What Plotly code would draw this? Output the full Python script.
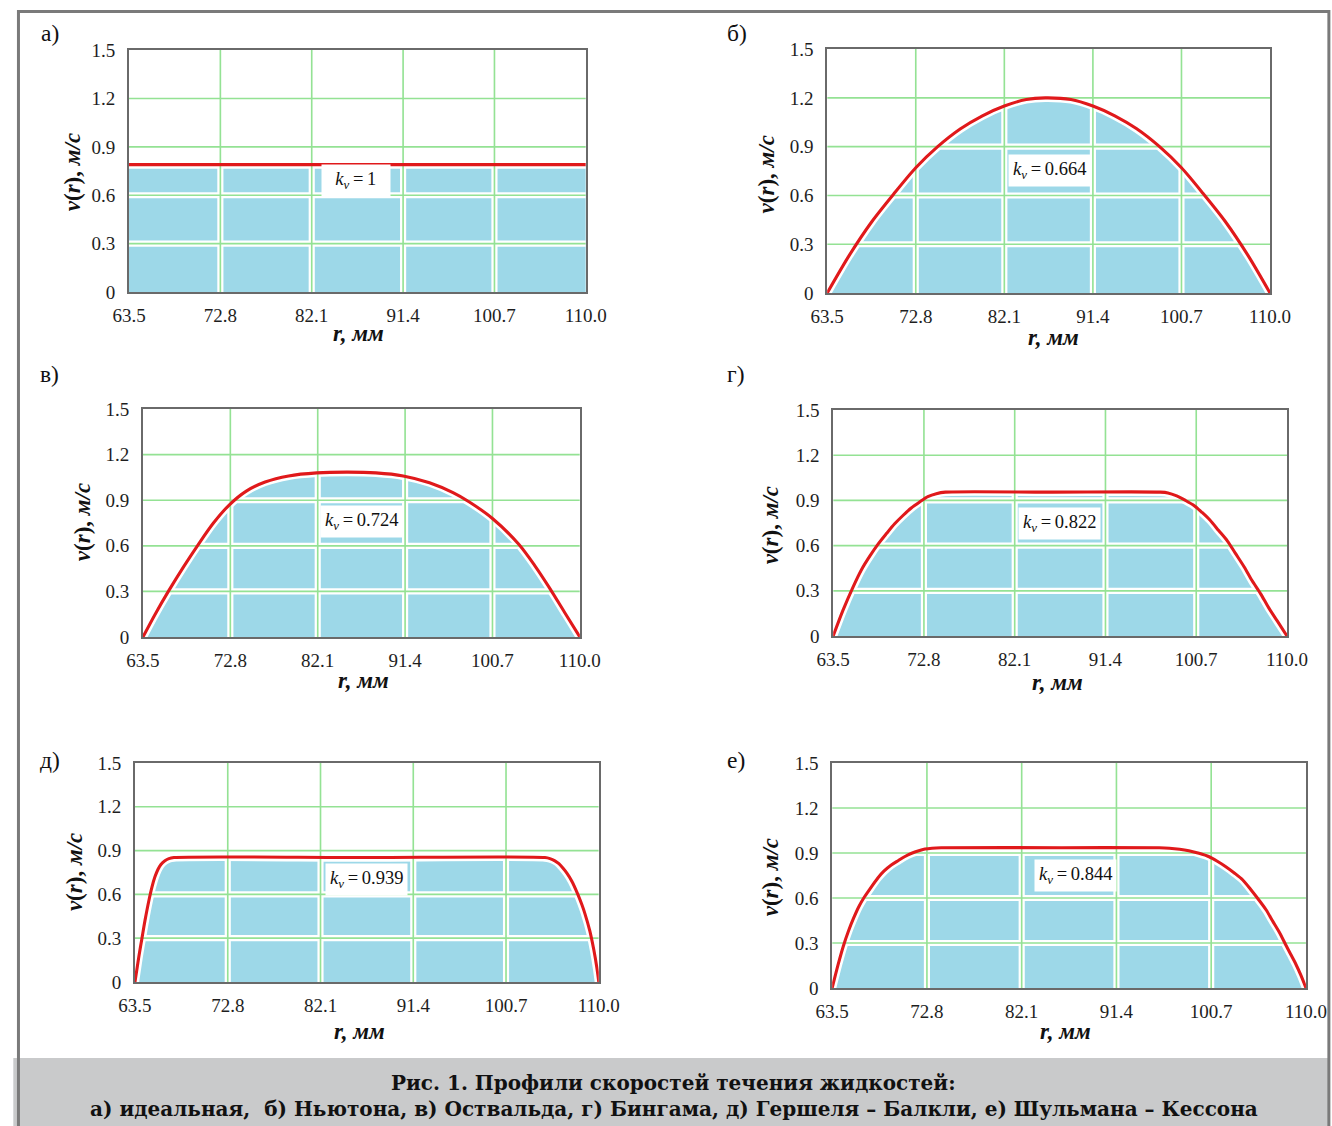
import plotly.graph_objects as go

W, H = 1332, 1126

# ---------------- data ----------------
R_TICKS = [63.5, 72.8, 82.1, 91.4, 100.7, 110.0]
R_TICKTEXT = ["63.5", "72.8", "82.1", "91.4", "100.7", "110.0"]
V_TICKS = [0, 0.3, 0.6, 0.9, 1.2, 1.5]
V_TICKTEXT = ["0", "0.3", "0.6", "0.9", "1.2", "1.5"]

# а) ideal
R_A = [63.5, 75.0, 86.75, 98.5, 110.0]
V_A = [0.79, 0.79, 0.79, 0.79, 0.79]
# б) Newton
R_B = [63.5, 65.8, 68.2, 70.5, 72.8, 75.1, 77.5, 79.8, 82.1, 84.4, 86.4, 89.1, 91.4, 93.7, 96.0, 98.4, 100.7, 103.0, 105.3, 107.7, 110.0]
V_B = [0.0, 0.23, 0.44, 0.61, 0.77, 0.90, 1.01, 1.09, 1.15, 1.19, 1.20, 1.19, 1.15, 1.09, 1.01, 0.90, 0.77, 0.61, 0.44, 0.23, 0.0]
# в) Ostwald
R_C = [63.5, 64.8, 66.2, 67.8, 69.4, 71.0, 72.7, 74.5, 76.5, 79.0, 82.0, 85.3, 88.3, 91.2, 94.0, 96.5, 98.2, 100.7, 103.5, 105.2, 106.7, 108.5, 110.0]
V_C = [0.0, 0.15, 0.30, 0.46, 0.61, 0.75, 0.87, 0.96, 1.02, 1.06, 1.08, 1.085, 1.08, 1.06, 1.015, 0.95, 0.89, 0.78, 0.61, 0.47, 0.33, 0.15, 0.0]
# г) Bingham
R_D = [63.5, 64.5, 65.5, 66.4, 67.25, 68.1, 68.96, 69.8, 70.65, 71.5, 72.36, 73.2, 74.07, 75.0, 86.0, 97.0, 97.8, 98.7,
       99.6, 100.5, 101.3, 102.1, 103.0, 103.9, 104.7, 105.6, 106.4, 107.3, 108.1, 109.0, 110.0]
V_D = [0.0, 0.17, 0.32, 0.44, 0.53, 0.61, 0.68, 0.745, 0.80, 0.85, 0.89, 0.925, 0.945, 0.955, 0.955, 0.955, 0.95, 0.93,
       0.90, 0.865, 0.82, 0.77, 0.70, 0.63, 0.55, 0.46, 0.37, 0.28, 0.19, 0.10, 0.0]
# д) Herschel-Bulkley
R_E = [63.5, 63.7, 63.9, 64.2, 64.5, 64.9, 65.2, 65.5, 65.8, 66.1, 66.5, 66.9, 67.4, 86.0, 104.6, 105.1, 105.6, 106.0,
       106.4, 106.8, 107.3, 107.9, 108.3, 108.6, 109.1, 109.5, 109.8, 110.0]
V_E = [0.0, 0.09, 0.18, 0.30, 0.42, 0.56, 0.65, 0.72, 0.77, 0.805, 0.83, 0.845, 0.852, 0.852, 0.852, 0.845, 0.83, 0.81,
       0.78, 0.745, 0.69, 0.60, 0.53, 0.47, 0.35, 0.22, 0.10, 0.0]
# е) Shulman-Casson
R_F = [63.5, 64.1, 64.6, 65.1, 65.6, 66.1, 66.6, 67.1, 68.0, 68.6, 69.3, 70.0, 70.6, 71.3, 72.0, 72.6, 73.3, 74.2, 86.0,
       95.6, 96.6, 97.6, 98.5, 99.5, 100.5, 101.3, 102.1, 103.0, 103.8, 104.6, 105.4, 106.1, 106.7, 107.4, 108.0, 108.5,
       109.0, 109.5, 110.0]
V_F = [0.0, 0.16, 0.28, 0.38, 0.465, 0.54, 0.60, 0.65, 0.735, 0.78, 0.82, 0.85, 0.875, 0.898, 0.915, 0.926, 0.932, 0.935,
       0.935, 0.935, 0.932, 0.925, 0.915, 0.898, 0.875, 0.845, 0.81, 0.765, 0.72, 0.655, 0.585, 0.52, 0.45, 0.37, 0.29,
       0.225, 0.16, 0.085, 0.0]

PANEL_LABELS = ["а)", "б)", "в)", "г)", "д)", "е)"]
KV_TEXT = ["1", "0.664", "0.724", "0.822", "0.939", "0.844"]
KV_POS = [(86.65, 0.694), (86.85, 0.753), (86.75, 0.763), (86.7, 0.75), (86.75, 0.70), (87.4, 0.747)]
CAPTION_1 = "Рис. 1. Профили скоростей течения жидкостей:"
CAPTION_2 = "а) идеальная,  б) Ньютона, в) Оствальда, г) Бингама, д) Гершеля – Балкли, е) Шульмана – Кессона"

SERIES = [(R_A, V_A), (R_B, V_B), (R_C, V_C), (R_D, V_D), (R_E, V_E), (R_F, V_F)]

# ---------------- layout geometry (target pixels in the photographed page) ----------------
FRAMES = [  # x0, x1, ytop, ybottom
    (127, 585, 50, 292),
    (827, 1271, 49, 293),
    (141, 579, 409, 637),
    (833, 1288, 410, 636),
    (133, 598, 763, 982),
    (832, 1307, 763, 988),
]
LABEL_POS = [(48, 33), (737, 33), (47, 374), (735, 374), (48, 760), (736, 760)]
XTITLE_POS = [(357, 333), (1054, 337), (362, 681), (1058, 683), (358, 1032), (1066, 1032)]
YTITLE_POS = [(70, 172), (766, 174), (80, 522), (770, 525), (73, 872), (771, 877)]

# the photographed page shows the figure slightly reduced and offset; compensate
AX, BX = 0.974, 14.7
AY, BY = 0.9815, 9.9
S = 2.0 / (AX + AY)


def fx(x):
    return (x - BX) / AX


def fy(y):
    return (y - BY) / AY


def px(x):
    return fx(x) / W


def py(y):
    return 1 - fy(y) / H


FILL = "#9dd8e8"
RED = "#e0191b"
GRID = "#94e294"
FONT = "Liberation Serif"
LINE = dict(shape="spline", smoothing=0.8)

fig = go.Figure()
annotations = []
shapes = []

for i, ((r, v), (x0, x1, yt, yb)) in enumerate(zip(SERIES, FRAMES)):
    n = "" if i == 0 else str(i + 1)
    xa, ya = "x" + n, "y" + n
    fig.add_trace(go.Scatter(x=r, y=v, xaxis=xa, yaxis=ya, mode="lines", fill="tozeroy",
                             fillcolor=FILL, line=dict(width=0, **LINE),
                             hoverinfo="skip", showlegend=False))
    fig.add_trace(go.Scatter(x=r, y=v, xaxis=xa, yaxis=ya, mode="lines",
                             line=dict(width=8 * S, color="white", **LINE),
                             hoverinfo="skip", showlegend=False))
    gx, gy = [], []
    for t in R_TICKS[1:-1]:
        gx += [t, t, None]
        gy += [V_TICKS[0], V_TICKS[-1], None]
    for t in V_TICKS[1:-1]:
        gx += [R_TICKS[0], R_TICKS[-1], None]
        gy += [t, t, None]
    fig.add_trace(go.Scatter(x=gx, y=gy, xaxis=xa, yaxis=ya, mode="lines",
                             line=dict(width=6 * S, color="white"), hoverinfo="skip", showlegend=False))
    fig.add_trace(go.Scatter(x=gx, y=gy, xaxis=xa, yaxis=ya, mode="lines",
                             line=dict(width=1.6 * S, color=GRID), hoverinfo="skip", showlegend=False))
    fig.add_trace(go.Scatter(x=r, y=v, xaxis=xa, yaxis=ya, mode="lines",
                             line=dict(width=3 * S, color=RED, **LINE),
                             hoverinfo="skip", showlegend=False))

    axcommon = dict(showgrid=False, zeroline=False, showline=True, mirror=True,
                    linecolor="#6a6a6a", linewidth=2, layer="above traces", ticks="",
                    tickfont=dict(family=FONT, size=19, color="#1e1e1e"))
    fig.layout["xaxis" + n] = dict(domain=[px(x0), px(x1)], anchor=ya, range=[R_TICKS[0], R_TICKS[-1]],
                                   tickmode="array", tickvals=R_TICKS, ticktext=R_TICKTEXT,
                                   ticklabelstandoff=5, **axcommon)
    fig.layout["yaxis" + n] = dict(domain=[py(yb), py(yt)], anchor=xa, range=[V_TICKS[0], V_TICKS[-1]],
                                   tickmode="array", tickvals=V_TICKS, ticktext=V_TICKTEXT,
                                   ticklabelstandoff=8, **axcommon)

    tx, ty = XTITLE_POS[i]
    annotations.append(dict(x=px(tx), y=py(ty), xref="paper", yref="paper",
                            text="<b><i>r, мм</i></b>", showarrow=False, xanchor="center", yanchor="middle",
                            font=dict(family=FONT, size=23, color="#111")))
    tx, ty = YTITLE_POS[i]
    annotations.append(dict(x=px(tx), y=py(ty), xref="paper", yref="paper",
                            text="<b><i>v</i>(<i>r</i>), <i>м/с</i></b>", showarrow=False, textangle=-90,
                            xanchor="center", yanchor="middle",
                            font=dict(family=FONT, size=23, color="#111")))
    lx, ly = LABEL_POS[i]
    annotations.append(dict(x=px(lx), y=py(ly), xref="paper", yref="paper", text=PANEL_LABELS[i],
                            showarrow=False, xanchor="center", yanchor="middle",
                            font=dict(family=FONT, size=23.5, color="#111")))
    kx, kv = KV_POS[i]
    pad = "\u00a0\u00a0" if len(KV_TEXT[i]) == 1 else ""
    annotations.append(dict(x=kx, y=kv, xref=xa, yref=ya,
                            text=pad + "<i>k</i><sub><i>v</i></sub>\u2009=\u2009" + KV_TEXT[i] + pad,
                            showarrow=False, xanchor="center", yanchor="middle", bgcolor="white",
                            borderpad=4, font=dict(family=FONT, size=18.5, color="#111")))

# caption band and outer frame
shapes.append(dict(type="rect", xref="paper", yref="paper", x0=px(11), x1=px(1331), y0=py(1140), y1=py(1058),
                   fillcolor="#c9cacb", line=dict(width=0), layer="below"))
shapes.append(dict(type="rect", xref="paper", yref="paper", x0=max(px(10.5), 1.5 / W), x1=px(1330),
                   y0=py(1150), y1=min(py(10.5), 1 - 1.5 / H),
                   fillcolor="rgba(0,0,0,0)", line=dict(width=3, color="#7a7a7a"), layer="above"))

CAP_FONT = dict(family="DejaVu Serif", size=20, color="#111")
annotations.append(dict(x=px(673), y=py(1083), xref="paper", yref="paper",
                        text="<b>" + CAPTION_1 + "</b>", showarrow=False,
                        xanchor="center", yanchor="middle", font=CAP_FONT))
annotations.append(dict(x=px(673), y=py(1109), xref="paper", yref="paper",
                        text="<b>" + CAPTION_2 + "</b>",
                        showarrow=False, xanchor="center", yanchor="middle", font=CAP_FONT))

fig.update_layout(width=W, height=H, margin=dict(l=0, r=0, t=0, b=0), paper_bgcolor="white",
                  plot_bgcolor="white", annotations=annotations, shapes=shapes, showlegend=False)

fig.write_html("out.html", config={"displayModeBar": False},
               post_script="document.body.style.margin='0';document.body.style.overflow='hidden';")
